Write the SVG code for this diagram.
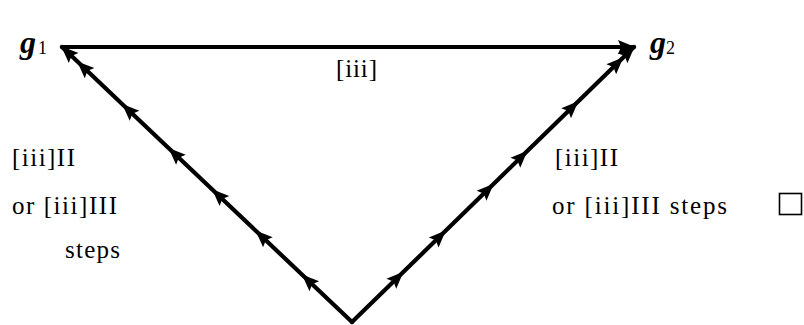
<svg xmlns="http://www.w3.org/2000/svg" width="804" height="325" viewBox="0 0 804 325">
<style>
.edge{fill:none;stroke:#000;stroke-width:4.2;stroke-linecap:round;stroke-linejoin:round}
.lbl{font-family:"Liberation Serif","Times New Roman",serif;font-size:25px;fill:#000}
.g{font-family:"Liberation Serif","Times New Roman",serif;font-size:32px;font-style:italic;font-weight:bold;fill:#000}
.sub{font-family:"Liberation Serif","Times New Roman",serif;font-size:18px;fill:#000}
</style>
<defs>
<marker id="ah" viewBox="-18 -9 20 18" refX="0" refY="0" markerWidth="20" markerHeight="18" markerUnits="userSpaceOnUse" orient="auto">
<path d="M1,0 L-16,-7 L-13,0 L-16,7 Z" fill="#000"/>
</marker>
</defs>
<rect width="804" height="325" fill="#fff"/>
<g id="connectors">
<path id="e-top" class="edge" d="M62,47 L634,47" marker-end="url(#ah)"/>
<polyline id="e-left" class="edge" points="352,322 302.7,275.25 256.3,231.25 212.8,190 169.3,148.75 122.9,104.75 77.95,62.1 62,47" marker-mid="url(#ah)" marker-end="url(#ah)"/>
<polyline id="e-right" class="edge" points="352,322 402.8,272.5 445.1,231.25 493,184.5 526.8,151.5 577.6,102 622.7,58 634,47" marker-mid="url(#ah)" marker-end="url(#ah)"/>
</g>
<g id="g1">
<text class="g" x="20" y="53">g</text>
<text class="sub" x="38" y="54">1</text>
</g>
<g id="g2">
<text class="g" x="650" y="53">g</text>
<text class="sub" x="666" y="54">2</text>
</g>
<g id="labels">
<text class="lbl" x="336" y="77" textLength="41" lengthAdjust="spacing">[iii]</text>
<text class="lbl" x="12" y="166" textLength="63" lengthAdjust="spacing">[iii]II</text>
<text class="lbl" x="12" y="214" textLength="105" lengthAdjust="spacing">or [iii]III</text>
<text class="lbl" x="65" y="258" textLength="55" lengthAdjust="spacing">steps</text>
<text class="lbl" x="555" y="166" textLength="63" lengthAdjust="spacing">[iii]II</text>
<text class="lbl" x="552" y="214" textLength="175" lengthAdjust="spacing">or [iii]III steps</text>
</g>
<rect id="qed" x="779.5" y="193.5" width="22" height="21" fill="none" stroke="#000" stroke-width="1.6"/>
</svg>
